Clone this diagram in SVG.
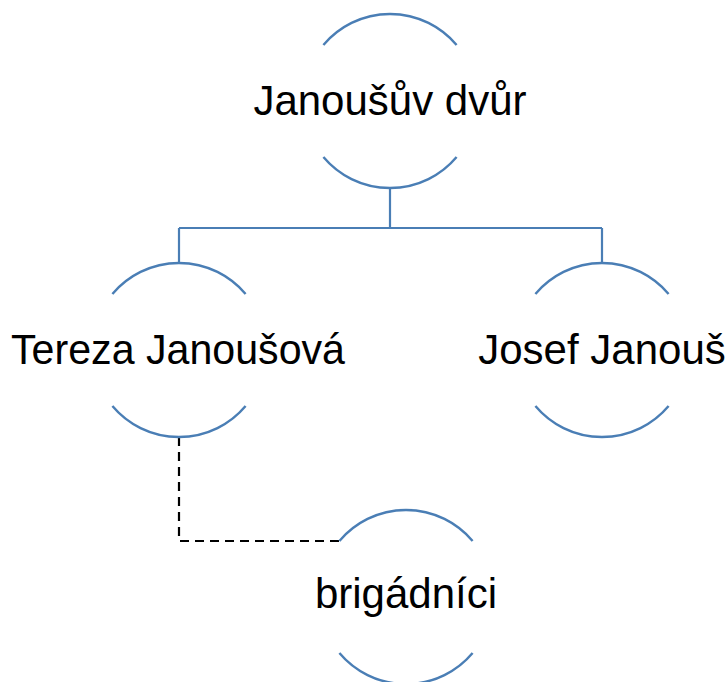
<svg xmlns="http://www.w3.org/2000/svg" width="726" height="682" viewBox="0 0 726 682">
  <style>
    .arc { fill: none; stroke: #4a7eb5; stroke-width: 2.4; }
    .conn { fill: none; stroke: #4a7eb5; stroke-width: 2.2; }
    .dash { fill: none; stroke: #000; stroke-width: 2.2; stroke-dasharray: 9 6; }
    .lbl { font-family: "Liberation Sans", Arial, sans-serif; font-size: 42px; fill: #000; text-anchor: middle; }
  </style>
  <rect width="726" height="682" fill="#fff"/>
  <g id="connectors">
    <path class="conn" d="M390 188 V228 M179 228 H602 M179 228 V263 M602 228 V263"/>
    <path class="dash" d="M179 437 V541 H339.4"/>
  </g>
  <g id="node-janousuv-dvur">
    <path class="arc" d="M323.4 45 A87 87 0 0 1 456.6 45"/>
    <path class="arc" d="M323.4 157 A87 87 0 0 0 456.6 157"/>
    <text class="lbl" x="390" y="115">Janoušův dvůr</text>
  </g>
  <g id="node-tereza">
    <path class="arc" d="M112.4 294 A87 87 0 0 1 245.6 294"/>
    <path class="arc" d="M112.4 406 A87 87 0 0 0 245.6 406"/>
    <text class="lbl" x="178" y="364" textLength="334" lengthAdjust="spacingAndGlyphs">Tereza Janoušová</text>
  </g>
  <g id="node-josef">
    <path class="arc" d="M535.4 294 A87 87 0 0 1 668.6 294"/>
    <path class="arc" d="M535.4 406 A87 87 0 0 0 668.6 406"/>
    <text class="lbl" x="602" y="364">Josef Janouš</text>
  </g>
  <g id="node-brigadnici">
    <path class="arc" d="M339.4 541 A87 87 0 0 1 472.6 541"/>
    <path class="arc" d="M339.4 653 A87 87 0 0 0 472.6 653"/>
    <text class="lbl" x="406" y="608">brigádníci</text>
  </g>
</svg>
